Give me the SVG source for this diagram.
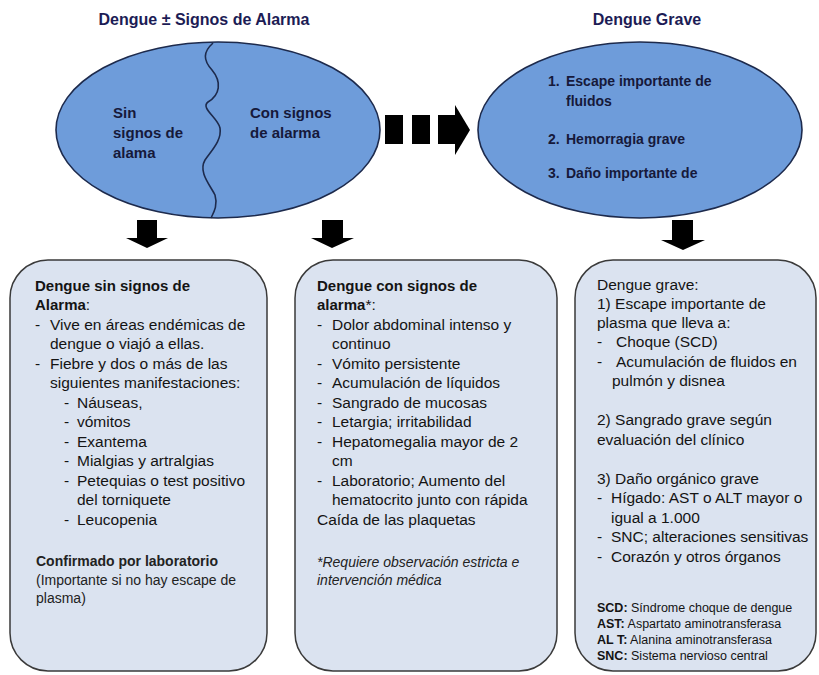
<svg xmlns="http://www.w3.org/2000/svg" width="819" height="675" viewBox="0 0 819 675">
  <style>
    .title { font-family: "Liberation Sans", Arial, sans-serif; font-weight: bold; font-size: 16px; fill: #1c1c55; }
    .oval { fill: #6e9cda; stroke: #1d2a4c; stroke-width: 1.6; }
    .ovaltxt { font-family: "Liberation Sans", Arial, sans-serif; font-weight: bold; font-size: 15px; fill: #16193a; }
    .ovaltxt2 { font-family: "Liberation Sans", Arial, sans-serif; font-weight: bold; font-size: 14px; fill: #16193a; }
    .box { fill: #dbe3f0; stroke: #3a3a3a; stroke-width: 1.5; }
    .txt { font-family: "Liberation Sans", Arial, sans-serif; font-size: 15.5px; fill: #141414; }
    .hd { font-weight: bold; font-size: 15px; }
    .small { font-family: "Liberation Sans", Arial, sans-serif; font-size: 14px; fill: #222; }
    .note { font-family: "Liberation Sans", Arial, sans-serif; font-size: 12.5px; fill: #141414; }
    .arrow { fill: #000; }
  </style>

  <!-- headings -->
  <text class="title" x="204" y="25" text-anchor="middle">Dengue ± Signos de Alarma</text>
  <text class="title" x="647" y="25" text-anchor="middle">Dengue Grave</text>

  <!-- left oval: split by a wavy boundary -->
  <g id="oval-alarma">
    <ellipse class="oval" cx="218" cy="130" rx="162" ry="88"/>
    <path d="M213,43 C203,52 203,60 212,70 C222,82 220,95 208,102 C200,108 218,118 220,128 C222,140 212,150 205,160 C198,172 210,185 215,195 C218,205 214,212 211,218" fill="none" stroke="#1d2a4c" stroke-width="1.6"/>
    <text class="ovaltxt" x="113" y="118">Sin</text>
    <text class="ovaltxt" x="113" y="138">signos de</text>
    <text class="ovaltxt" x="113" y="158">alama</text>
    <text class="ovaltxt" x="250" y="118">Con signos</text>
    <text class="ovaltxt" x="250" y="138">de alarma</text>
  </g>

  <!-- right oval -->
  <g id="oval-grave">
    <ellipse class="oval" cx="640" cy="130" rx="162" ry="88"/>
    <text class="ovaltxt2" x="548" y="86">1.</text>
    <text class="ovaltxt2" x="566" y="86">Escape importante de</text>
    <text class="ovaltxt2" x="566" y="106">fluidos</text>
    <text class="ovaltxt2" x="548" y="144">2.</text>
    <text class="ovaltxt2" x="566" y="144">Hemorragia grave</text>
    <text class="ovaltxt2" x="548" y="178">3.</text>
    <text class="ovaltxt2" x="566" y="178">Daño importante de</text>
  </g>

  <!-- connectors -->
  <g id="connectors">
    <rect class="arrow" x="385" y="115" width="18" height="29"/>
    <rect class="arrow" x="412" y="115" width="18" height="29"/>
    <rect class="arrow" x="438" y="115" width="18" height="29"/>
    <polygon class="arrow" points="455,105 470,130 455,155"/>
    <polygon class="arrow" points="137,220 157,220 157,238 168,238 147,248 126,238 137,238"/>
    <polygon class="arrow" points="322,220 343,220 343,238 354,238 332,248 311,238 322,238"/>
    <polygon class="arrow" points="672,220 693,220 693,240 705,240 683,250 661,240 672,240"/>
  </g>

  <!-- left box -->
  <g id="box-sin">
    <rect class="box" x="10" y="260" width="257" height="411" rx="38" ry="38"/>
    <text class="txt hd" x="35" y="291">Dengue sin signos de</text>
    <text class="txt" x="35" y="310"><tspan class="hd">Alarma</tspan>:</text>
    <text class="txt" x="35" y="330">-</text><text class="txt" x="50" y="330">Vive en áreas endémicas de</text>
    <text class="txt" x="50" y="349">dengue o viajó a ellas.</text>
    <text class="txt" x="35" y="369">-</text><text class="txt" x="50" y="369">Fiebre y dos o más de las</text>
    <text class="txt" x="50" y="388">siguientes manifestaciones:</text>
    <text class="txt" x="64" y="408">-</text><text class="txt" x="77" y="408">Náuseas,</text>
    <text class="txt" x="64" y="427">-</text><text class="txt" x="77" y="427">vómitos</text>
    <text class="txt" x="64" y="447">-</text><text class="txt" x="77" y="447">Exantema</text>
    <text class="txt" x="64" y="466">-</text><text class="txt" x="77" y="466">Mialgias y artralgias</text>
    <text class="txt" x="64" y="486">-</text><text class="txt" x="77" y="486">Petequias o test positivo</text>
    <text class="txt" x="77" y="505">del torniquete</text>
    <text class="txt" x="64" y="525">-</text><text class="txt" x="77" y="525">Leucopenia</text>
    <text class="small" x="36" y="566" font-weight="bold" fill="#111">Confirmado por laboratorio</text>
    <text class="small" x="36" y="585" fill="#444">(Importante si no hay escape de</text>
    <text class="small" x="36" y="603" fill="#444">plasma)</text>
  </g>

  <!-- middle box -->
  <g id="box-con">
    <rect class="box" x="295" y="260" width="262" height="411" rx="38" ry="38"/>
    <text class="txt hd" x="317" y="291">Dengue con signos de</text>
    <text class="txt" x="317" y="310"><tspan class="hd">alarma</tspan>*:</text>
    <text class="txt" x="317" y="330">-</text><text class="txt" x="332" y="330">Dolor abdominal intenso y</text>
    <text class="txt" x="332" y="349">continuo</text>
    <text class="txt" x="317" y="369">-</text><text class="txt" x="332" y="369">Vómito persistente</text>
    <text class="txt" x="317" y="388">-</text><text class="txt" x="332" y="388">Acumulación de líquidos</text>
    <text class="txt" x="317" y="408">-</text><text class="txt" x="332" y="408">Sangrado de mucosas</text>
    <text class="txt" x="317" y="427">-</text><text class="txt" x="332" y="427">Letargia; irritabilidad</text>
    <text class="txt" x="317" y="447">-</text><text class="txt" x="332" y="447">Hepatomegalia mayor de 2</text>
    <text class="txt" x="332" y="466">cm</text>
    <text class="txt" x="317" y="486">-</text><text class="txt" x="332" y="486">Laboratorio; Aumento del</text>
    <text class="txt" x="332" y="505">hematocrito junto con rápida</text>
    <text class="txt" x="317" y="525">Caída de las plaquetas</text>
    <text class="small" x="317" y="567" font-style="italic">*Requiere observación estricta e</text>
    <text class="small" x="317" y="585" font-style="italic">intervención médica</text>
  </g>

  <!-- right box -->
  <g id="box-grave">
    <rect class="box" x="575" y="260" width="241" height="411" rx="38" ry="38"/>
    <text class="txt" x="597" y="290">Dengue grave:</text>
    <text class="txt" x="597" y="309">1) Escape importante de</text>
    <text class="txt" x="597" y="328">plasma que lleva a:</text>
    <text class="txt" x="597" y="347">-</text><text class="txt" x="616" y="347">Choque (SCD)</text>
    <text class="txt" x="597" y="367">-</text><text class="txt" x="616" y="367">Acumulación de fluidos en</text>
    <text class="txt" x="612" y="386">pulmón y disnea</text>
    <text class="txt" x="597" y="425">2) Sangrado grave según</text>
    <text class="txt" x="597" y="445">evaluación del clínico</text>
    <text class="txt" x="597" y="484">3) Daño orgánico grave</text>
    <text class="txt" x="597" y="503">-</text><text class="txt" x="611" y="503">Hígado: AST o ALT mayor o</text>
    <text class="txt" x="611" y="523">igual a 1.000</text>
    <text class="txt" x="597" y="542">-</text><text class="txt" x="611" y="542">SNC; alteraciones sensitivas</text>
    <text class="txt" x="597" y="562">-</text><text class="txt" x="611" y="562">Corazón y otros órganos</text>
    <text class="note" x="597" y="612"><tspan font-weight="bold">SCD:</tspan> Síndrome choque de dengue</text>
    <text class="note" x="597" y="628"><tspan font-weight="bold">AST:</tspan> Aspartato aminotransferasa</text>
    <text class="note" x="597" y="644"><tspan font-weight="bold">AL T:</tspan> Alanina aminotransferasa</text>
    <text class="note" x="597" y="660"><tspan font-weight="bold">SNC:</tspan> Sistema nervioso central</text>
  </g>
</svg>
